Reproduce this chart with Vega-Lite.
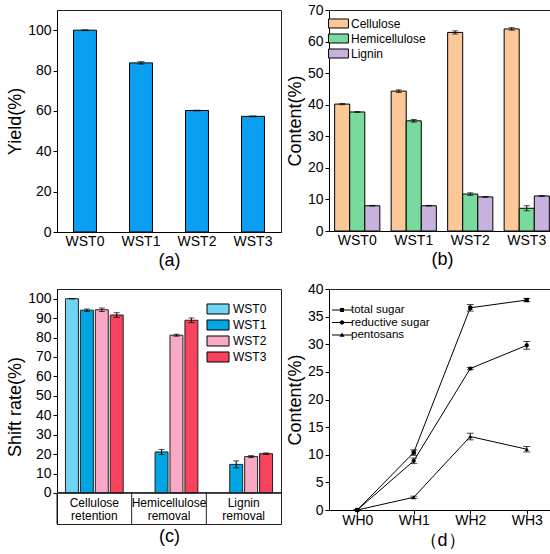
{
"$schema": "https://vega.github.io/schema/vega-lite/v6.json",
"padding": {"left": 6, "top": 2, "right": 0, "bottom": 0},
"background": "white",
"config": {
  "font": "Liberation Sans",
  "view": {"stroke": "#222", "strokeWidth": 1},
  "axis": {"labelFont": "Liberation Sans", "titleFont": "Liberation Sans", "labelFontSize": 14, "titleFontSize": 18, "titleFontWeight": "normal", "labelColor": "black", "titleColor": "black", "domainColor": "black", "tickColor": "black", "tickSize": 4, "grid": false, "labelPadding": 2, "titlePadding": 3},
  "legend": {"labelFont": "Liberation Sans", "labelColor": "black", "labelFontSize": 12, "title": null, "symbolStrokeColor": "black", "symbolStrokeWidth": 1, "rowPadding": 0, "padding": 0}
},
"resolve": {
  "scale": {"x": "independent", "y": "independent", "xOffset": "independent", "color": "independent", "shape": "independent"},
  "axis": {"x": "independent", "y": "independent"},
  "legend": {"color": "independent", "shape": "independent"}
},
"columns": 2,
"spacing": {"row": 57, "column": 48},
"bounds": "flush",
"concat": [
{
  "width": 224, "height": 222,
  "data": {"values": [
    {"s": "WST0", "v": 100, "e": 0.2},
    {"s": "WST1", "v": 83.8, "e": 0.6},
    {"s": "WST2", "v": 60.2, "e": 0.15},
    {"s": "WST3", "v": 57.3, "e": 0.2}
  ]},
  "layer": [
    {"mark": {"type": "bar", "color": "#0a9ff0", "stroke": "black", "strokeWidth": 1},
     "encoding": {
       "x": {"field": "s", "type": "nominal", "scale": {"paddingInner": 0.59, "paddingOuter": 0.295}, "axis": {"title": "(a)", "labelAngle": 0, "ticks": false}},
       "y": {"field": "v", "type": "quantitative", "scale": {"domain": [0, 110], "nice": false}, "axis": {"title": "Yield(%)", "values": [0, 20, 40, 60, 80, 100]}}
     }},
    {"mark": {"type": "errorbar", "ticks": {"size": 7}},
     "encoding": {
       "x": {"field": "s", "type": "nominal"},
       "y": {"field": "v", "type": "quantitative", "axis": {"title": "Yield(%)", "values": [0, 20, 40, 60, 80, 100]}},
       "yError": {"field": "e"},
       "color": {"value": "black"}
     }}
  ]
},
{
  "width": 226, "height": 221,
  "data": {"values": [
    {"s": "WST0", "c": "Cellulose", "v": 40.2, "e": 0.2},
    {"s": "WST1", "c": "Cellulose", "v": 44.3, "e": 0.4},
    {"s": "WST2", "c": "Cellulose", "v": 62.9, "e": 0.5},
    {"s": "WST3", "c": "Cellulose", "v": 64.0, "e": 0.4},
    {"s": "WST0", "c": "Hemicellulose", "v": 37.7, "e": 0.1},
    {"s": "WST1", "c": "Hemicellulose", "v": 34.9, "e": 0.4},
    {"s": "WST2", "c": "Hemicellulose", "v": 11.7, "e": 0.4},
    {"s": "WST3", "c": "Hemicellulose", "v": 7.2, "e": 0.8},
    {"s": "WST0", "c": "Lignin", "v": 8.0, "e": 0.1},
    {"s": "WST1", "c": "Lignin", "v": 8.0, "e": 0.1},
    {"s": "WST2", "c": "Lignin", "v": 10.8, "e": 0.1},
    {"s": "WST3", "c": "Lignin", "v": 11.1, "e": 0.1}
  ]},
  "layer": [
    {"mark": {"type": "bar", "stroke": "black", "strokeWidth": 1},
     "encoding": {
       "x": {"field": "s", "type": "nominal", "scale": {"paddingInner": 0.2, "paddingOuter": 0.1}, "axis": {"title": "(b)", "labelAngle": 0, "ticks": false}},
       "xOffset": {"field": "c", "type": "nominal", "sort": ["Cellulose", "Hemicellulose", "Lignin"]},
       "y": {"field": "v", "type": "quantitative", "scale": {"domain": [0, 70], "nice": false}, "axis": {"title": "Content(%)", "values": [0, 10, 20, 30, 40, 50, 60, 70]}},
       "color": {"field": "c", "type": "nominal", "scale": {"domain": ["Cellulose", "Hemicellulose", "Lignin"], "range": ["#fdc898", "#78da9c", "#c7b2dd"]},
         "legend": {"orient": "none", "legendX": 3, "legendY": 7, "symbolType": "M-1.7,-0.77H1.7V0.77H-1.7Z", "symbolSize": 137, "labelOffset": 6, "labelFontSize": 12}}
     }},
    {"mark": {"type": "errorbar", "ticks": {"size": 6}},
     "encoding": {
       "x": {"field": "s", "type": "nominal"},
       "xOffset": {"field": "c", "type": "nominal", "sort": ["Cellulose", "Hemicellulose", "Lignin"]},
       "y": {"field": "v", "type": "quantitative", "axis": {"title": "Content(%)", "values": [0, 10, 20, 30, 40, 50, 60, 70]}},
       "yError": {"field": "e"},
       "color": {"value": "black"}
     }}
  ]
},
{
  "width": 224, "height": 235,
  "layer": [
    {"data": {"values": [
      {"g": "Cellulose retention", "s": "WST0", "v": 100, "e": 0},
      {"g": "Cellulose retention", "s": "WST1", "v": 94.1, "e": 0.6},
      {"g": "Cellulose retention", "s": "WST2", "v": 94.3, "e": 0.9},
      {"g": "Cellulose retention", "s": "WST3", "v": 91.6, "e": 1.2},
      {"g": "Hemicellulose removal", "s": "WST1", "v": 21.1, "e": 1.3},
      {"g": "Hemicellulose removal", "s": "WST2", "v": 81.2, "e": 0.5},
      {"g": "Hemicellulose removal", "s": "WST3", "v": 88.9, "e": 1.2},
      {"g": "Lignin removal", "s": "WST1", "v": 14.7, "e": 1.8},
      {"g": "Lignin removal", "s": "WST2", "v": 18.7, "e": 0.5},
      {"g": "Lignin removal", "s": "WST3", "v": 20.2, "e": 0.4}
    ]},
     "layer": [
      {"mark": {"type": "bar", "stroke": "#222", "strokeWidth": 1},
       "encoding": {
         "x": {"field": "g", "type": "nominal", "sort": ["Cellulose retention", "Hemicellulose removal", "Lignin removal"], "scale": {"paddingInner": 0, "paddingOuter": 0}, "axis": {"title": "(c)", "labels": false, "ticks": false, "domain": false, "titlePadding": 3}},
         "xOffset": {"field": "s", "type": "nominal", "sort": ["WST0", "WST1", "WST2", "WST3"], "scale": {"paddingInner": 0.133, "paddingOuter": 0.567}},
         "y": {"field": "v", "type": "quantitative", "scale": {"domain": [-16, 105], "nice": false, "zero": false}, "axis": {"title": "Shift rate(%)", "values": [0, 10, 20, 30, 40, 50, 60, 70, 80, 90, 100]}},
         "color": {"field": "s", "type": "nominal", "scale": {"domain": ["WST0", "WST1", "WST2", "WST3"], "range": ["#70d4f4", "#00a6e4", "#f9a8c5", "#f7435b"]},
           "legend": {"orient": "top-right", "offset": 14, "symbolType": "M-2,-0.91H2V0.91H-2Z", "symbolSize": 121, "labelOffset": 9, "labelFontSize": 12}}
       }},
      {"mark": {"type": "errorbar", "ticks": {"size": 6}},
       "encoding": {
         "x": {"field": "g", "type": "nominal", "sort": ["Cellulose retention", "Hemicellulose removal", "Lignin removal"]},
         "xOffset": {"field": "s", "type": "nominal", "sort": ["WST0", "WST1", "WST2", "WST3"]},
         "y": {"field": "v", "type": "quantitative", "axis": {"title": "Shift rate(%)", "values": [0, 10, 20, 30, 40, 50, 60, 70, 80, 90, 100]}},
         "yError": {"field": "e"},
         "color": {"value": "black"}
       }}
     ]},
    {"data": {"values": [
      {"g": "Cellulose retention", "label": "Cellulose\nretention"},
      {"g": "Hemicellulose removal", "label": "Hemicellulose\nremoval"},
      {"g": "Lignin removal", "label": "Lignin\nremoval"}
    ]},
     "layer": [
      {"mark": {"type": "rule", "color": "#222", "strokeWidth": 1},
       "encoding": {"y": {"datum": 0, "type": "quantitative", "axis": {"title": "Shift rate(%)", "values": [0, 10, 20, 30, 40, 50, 60, 70, 80, 90, 100]}}}},
      {"mark": {"type": "rule", "color": "#222", "strokeWidth": 1},
       "encoding": {
         "x": {"field": "g", "type": "nominal", "bandPosition": 0},
         "y": {"datum": 0, "type": "quantitative", "axis": {"title": "Shift rate(%)", "values": [0, 10, 20, 30, 40, 50, 60, 70, 80, 90, 100]}},
         "y2": {"datum": -16}
       }},
      {"mark": {"type": "text", "fontSize": 12, "lineBreak": "\n", "lineHeight": 13, "baseline": "middle", "color": "black"},
       "encoding": {
         "x": {"field": "g", "type": "nominal"},
         "y": {"datum": -5, "type": "quantitative", "axis": {"title": "Shift rate(%)", "values": [0, 10, 20, 30, 40, 50, 60, 70, 80, 90, 100]}},
         "text": {"field": "label"}
       }}
     ]}
  ]
},
{
  "width": 226, "height": 221,
  "data": {"values": [
    {"x": "WH0", "k": "total sugar", "v": 0, "e": 0},
    {"x": "WH1", "k": "total sugar", "v": 10.4, "e": 0.5},
    {"x": "WH2", "k": "total sugar", "v": 36.6, "e": 0.6},
    {"x": "WH3", "k": "total sugar", "v": 38.0, "e": 0.3},
    {"x": "WH0", "k": "reductive sugar", "v": 0, "e": 0},
    {"x": "WH1", "k": "reductive sugar", "v": 8.9, "e": 0.5},
    {"x": "WH2", "k": "reductive sugar", "v": 25.6, "e": 0.2},
    {"x": "WH3", "k": "reductive sugar", "v": 29.8, "e": 0.7},
    {"x": "WH0", "k": "pentosans", "v": 0, "e": 0},
    {"x": "WH1", "k": "pentosans", "v": 2.3, "e": 0.2},
    {"x": "WH2", "k": "pentosans", "v": 13.3, "e": 0.6},
    {"x": "WH3", "k": "pentosans", "v": 11.0, "e": 0.5}
  ]},
  "resolve": {"scale": {"shape": "independent"}, "legend": {"shape": "independent"}},
  "layer": [
    {"mark": {"type": "line", "color": "black", "strokeWidth": 1},
     "encoding": {
       "x": {"field": "x", "type": "ordinal", "scale": {"type": "point", "padding": 0.5}, "axis": {"title": "（d）", "labelAngle": 0, "titlePadding": 4, "labelPadding": -1}},
       "y": {"field": "v", "type": "quantitative", "scale": {"domain": [0, 40], "nice": false}, "axis": {"title": "Content(%)", "values": [0, 5, 10, 15, 20, 25, 30, 35, 40]}},
       "detail": {"field": "k"}
     }},
    {"mark": {"type": "errorbar", "ticks": {"size": 7}},
     "encoding": {
       "x": {"field": "x", "type": "ordinal"},
       "y": {"field": "v", "type": "quantitative", "axis": {"title": "Content(%)", "values": [0, 5, 10, 15, 20, 25, 30, 35, 40]}},
       "yError": {"field": "e"},
       "detail": {"field": "k"},
       "color": {"value": "black"}
     }},
    {"mark": {"type": "point", "filled": true, "color": "black", "size": 18, "opacity": 1},
     "encoding": {
       "x": {"field": "x", "type": "ordinal"},
       "y": {"field": "v", "type": "quantitative", "axis": {"title": "Content(%)", "values": [0, 5, 10, 15, 20, 25, 30, 35, 40]}},
       "shape": {"field": "k", "type": "nominal", "scale": {"domain": ["total sugar", "reductive sugar", "pentosans"], "range": ["square", "circle", "triangle-up"]}, "legend": null}
     }},
    {"transform": [{"filter": "false"}],
     "mark": {"type": "point", "filled": true, "color": "black", "size": 144, "opacity": 1},
     "encoding": {
       "x": {"field": "x", "type": "ordinal"},
       "y": {"field": "v", "type": "quantitative", "axis": {"title": "Content(%)", "values": [0, 5, 10, 15, 20, 25, 30, 35, 40]}},
       "shape": {"field": "k", "type": "nominal",
         "scale": {"domain": ["total sugar", "reductive sugar", "pentosans"], "range": ["M-1.67,-0.09H1.67V0.09H-1.67ZM-0.33,-0.33H0.33V0.33H-0.33Z", "M-1.67,-0.09H1.67V0.09H-1.67ZM0.37,0A0.37,0.37 0 1,1 -0.37,0A0.37,0.37 0 1,1 0.37,0Z", "M-1.67,-0.09H1.67V0.09H-1.67ZM0,-0.42L0.42,0.3L-0.42,0.3Z"]},
         "legend": {"orient": "none", "legendX": 7, "legendY": 15, "symbolSize": 144, "labelOffset": 3, "labelFontSize": 11.5, "rowPadding": 0.5, "symbolFillColor": "black", "symbolStrokeWidth": 0}}
     }}
  ]
}
]
}
